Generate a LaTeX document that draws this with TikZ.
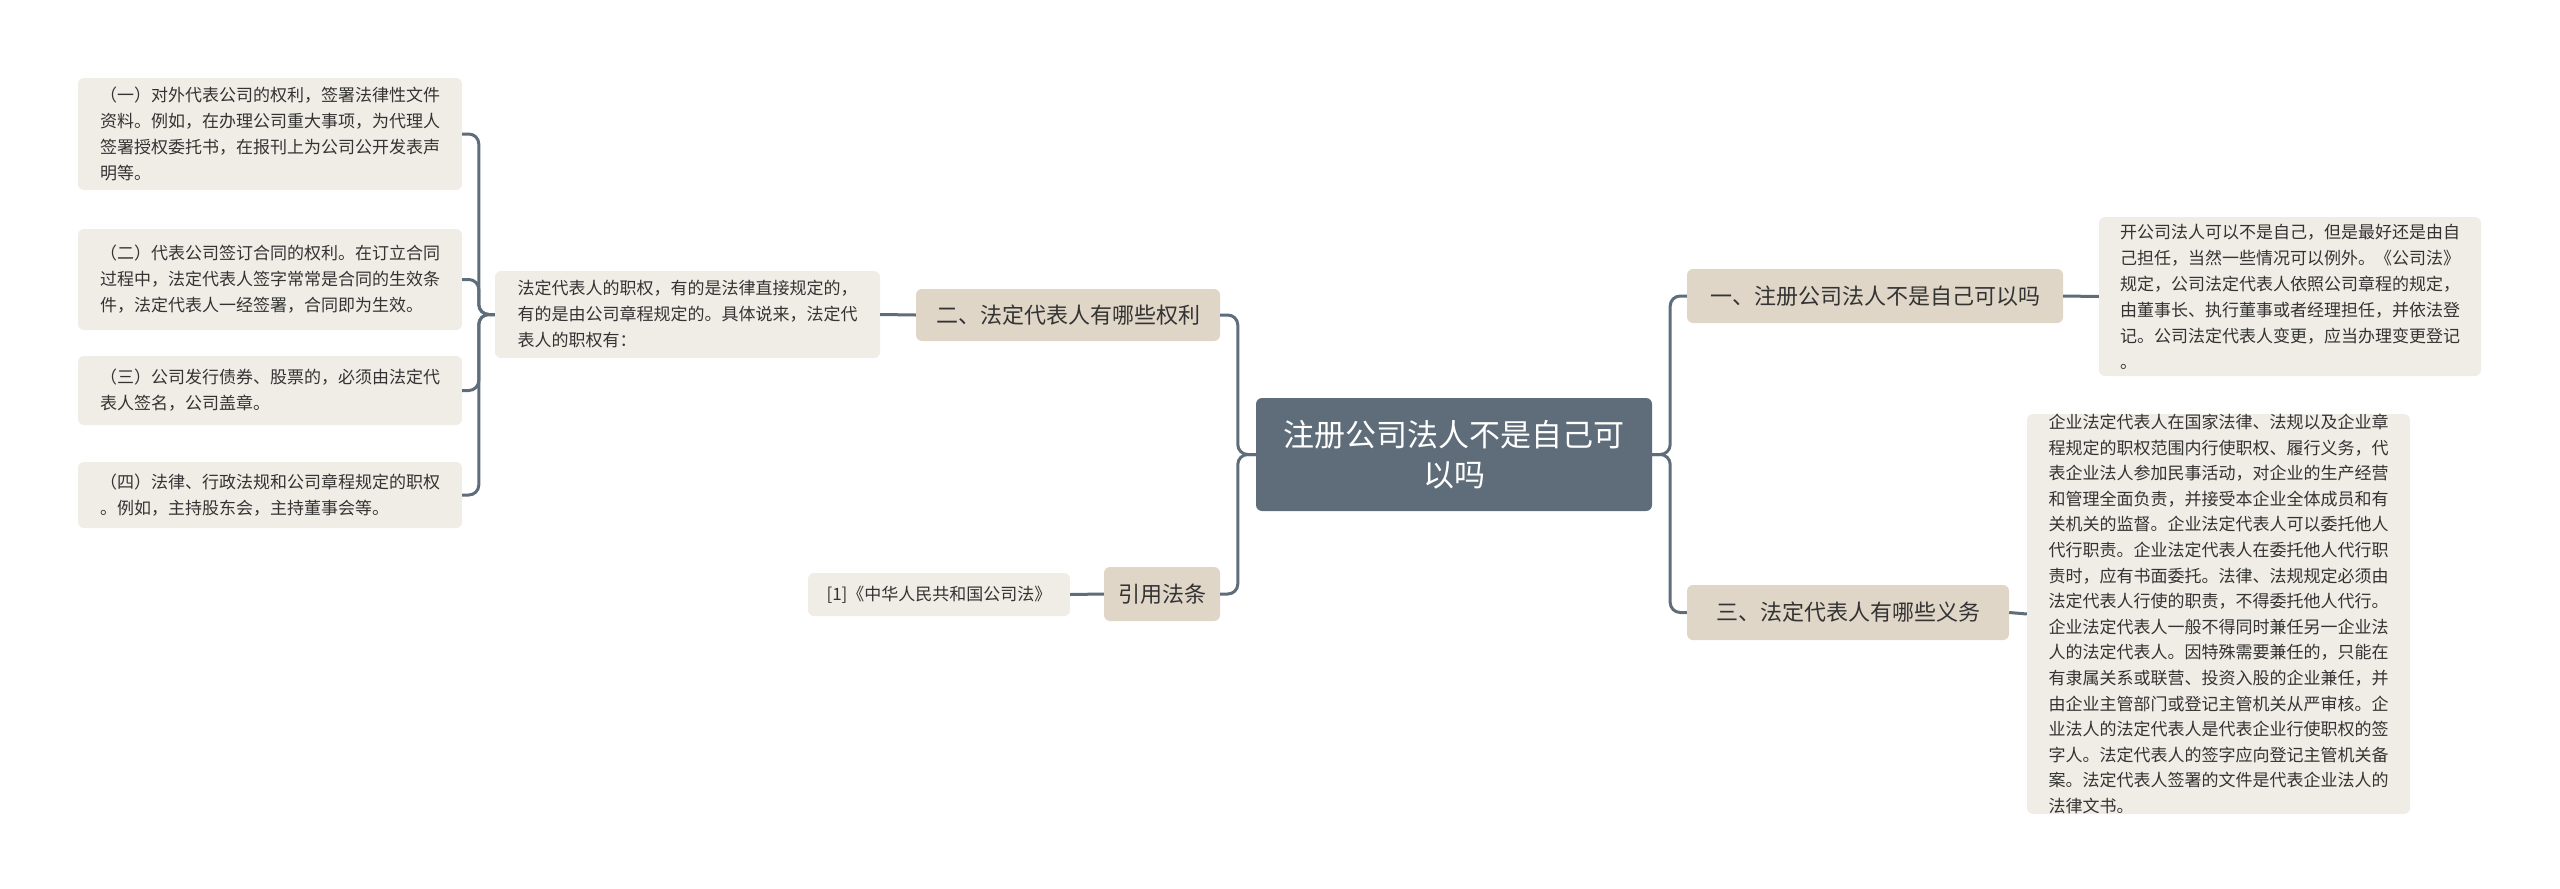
\documentclass[tikz,border=0pt]{standalone}
\usepackage{fontspec}
\setmainfont{Noto Sans CJK SC}
\definecolor{lc}{HTML}{5E6D79}
\definecolor{lvone}{HTML}{E0D6C8}
\definecolor{leaff}{HTML}{F0EDE6}
\definecolor{tx}{HTML}{333333}
\begin{document}
\begin{tikzpicture}[x=1pt,y=-1pt,
  base/.style={rounded corners=6pt,inner sep=0pt,align=left,text=tx},
  cen/.style={base,fill=lc,text=white,align=center,font=\fontsize{31}{40}\selectfont},
  lv/.style={base,fill=lvone,align=center,font=\fontsize{22}{28}\selectfont},
  lf/.style={base,fill=leaff,font=\fontsize{17}{26}\selectfont},
  conn/.style={draw=lc,line width=3pt,rounded corners=10pt}]
\useasboundingbox (0,0) rectangle (2560,889);
\node[cen,minimum width=396,minimum height=113] (c) at (1454,454.5) {注册公司法人不是自己可\\以吗};
\node[lv,minimum width=304,minimum height=52] (b2) at (1068,315) {二、法定代表人有哪些权利};
\node[lv,minimum width=116,minimum height=54] (ref) at (1162,594) {引用法条};
\node[lv,minimum width=376,minimum height=54] (b1) at (1875,296) {一、注册公司法人不是自己可以吗};
\node[lv,minimum width=322,minimum height=55] (b3) at (1848,612.5) {三、法定代表人有哪些义务};
\node[lf,minimum width=382,minimum height=159] (r1) at (2290,296.5) {开公司法人可以不是自己，但是最好还是由自\\己担任，当然一些情况可以例外。《公司法》\\规定，公司法定代表人依照公司章程的规定，\\由董事长、执行董事或者经理担任，并依法登\\记。公司法定代表人变更，应当办理变更登记\\。};
\node[lf,minimum width=383,minimum height=392,font=\fontsize{17}{25.6}\selectfont] (r3) at (2218.5,614) {企业法定代表人在国家法律、法规以及企业章\\程规定的职权范围内行使职权、履行义务，代\\表企业法人参加民事活动，对企业的生产经营\\和管理全面负责，并接受本企业全体成员和有\\关机关的监督。企业法定代表人可以委托他人\\代行职责。企业法定代表人在委托他人代行职\\责时，应有书面委托。法律、法规规定必须由\\法定代表人行使的职责，不得委托他人代行。\\企业法定代表人一般不得同时兼任另一企业法\\人的法定代表人。因特殊需要兼任的，只能在\\有隶属关系或联营、投资入股的企业兼任，并\\由企业主管部门或登记主管机关从严审核。企\\业法人的法定代表人是代表企业行使职权的签\\字人。法定代表人的签字应向登记主管机关备\\案。法定代表人签署的文件是代表企业法人的\\法律文书。};
\node[lf,minimum width=385,minimum height=87] (m) at (687.5,314.5) {法定代表人的职权，有的是法律直接规定的，\\有的是由公司章程规定的。具体说来，法定代\\表人的职权有：};
\node[lf,minimum width=262,minimum height=43] (rf) at (939,594.5) {[1]《中华人民共和国公司法》};
\node[lf,minimum width=384,minimum height=112] (l1) at (270,134) {（一）对外代表公司的权利，签署法律性文件\\资料。例如，在办理公司重大事项，为代理人\\签署授权委托书，在报刊上为公司公开发表声\\明等。};
\node[lf,minimum width=384,minimum height=101] (l2) at (270,279.5) {（二）代表公司签订合同的权利。在订立合同\\过程中，法定代表人签字常常是合同的生效条\\件，法定代表人一经签署，合同即为生效。};
\node[lf,minimum width=384,minimum height=69] (l3) at (270,390.5) {（三）公司发行债券、股票的，必须由法定代\\表人签名，公司盖章。};
\node[lf,minimum width=384,minimum height=66] (l4) at (270,495) {（四）法律、行政法规和公司章程规定的职权\\。例如，主持股东会，主持董事会等。};
\foreach \t in {b2,ref}{\draw[conn] (c.west) -- ++(-18,0) |- (\t.east);}
\foreach \t in {b1,b3}{\draw[conn] (c.east) -- ++(18,0) |- (\t.west);}
\draw[conn] (b1.east) -- (r1.west);
\draw[conn] (b3.east) -- (r3.west);
\draw[conn] (b2.west) -- (m.east);
\draw[conn] (ref.west) -- (rf.east);
\foreach \t in {l1,l2,l3,l4}{\draw[conn] (m.west) -- ++(-16,0) |- (\t.east);}
\end{tikzpicture}
\end{document}
